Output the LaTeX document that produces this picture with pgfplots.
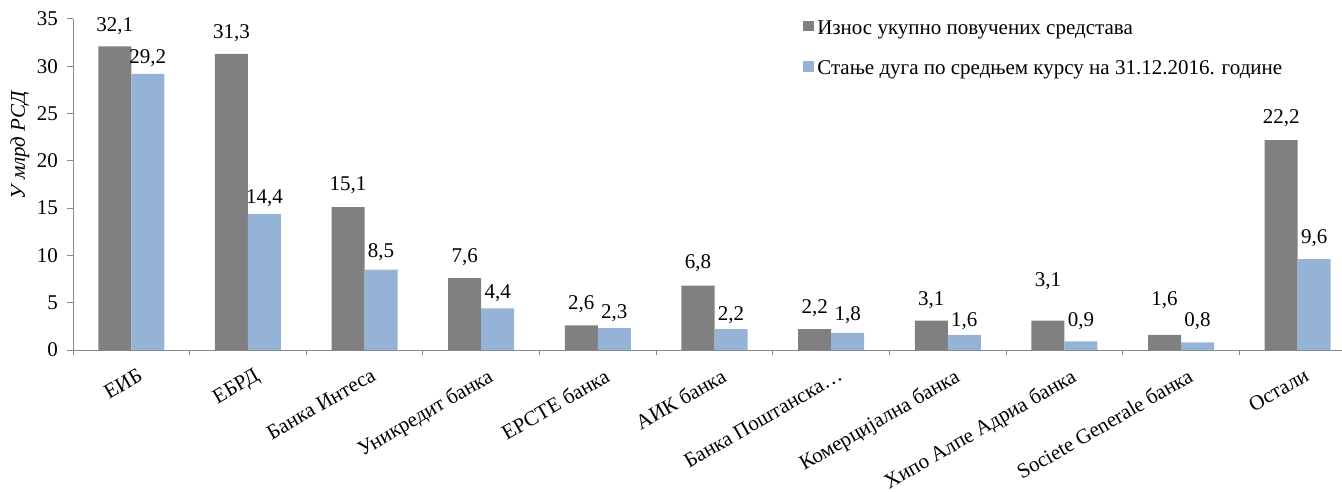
\documentclass[border=0pt]{standalone}
\usepackage{fontspec}
\setmainfont{Liberation Serif}
\usepackage{pgfplots}
\usepackage{pgfplotstable}
\pgfplotsset{compat=1.18}

\definecolor{bargray}{HTML}{808080}
\definecolor{barblue}{HTML}{95B3D7}
\definecolor{axisgray}{HTML}{898989}
\newcommand\ff{\fontsize{21bp}{25bp}\selectfont}

% x = category, y = value, dy = label baseline above bar top (bp)
\pgfplotstableread{
x y dy
0 32.1 15.4
1 31.3 15
2 15.1 16.3
3 7.6 16
4 2.6 16
5 6.8 17
6 2.2 16
7 3.1 15.3
8 3.1 34
9 1.6 29
10 22.2 16.7
}\povuceno

\pgfplotstableread{
x y dy
0 29.2 10
1 14.4 10.3
2 8.5 11.7
3 4.4 9.7
4 2.3 9.4
5 2.2 9
6 1.8 12
7 1.6 8.7
8 0.9 15.3
9 0.8 15.6
10 9.6 16
}\dug

\begin{document}
\begin{tikzpicture}
\useasboundingbox (0,0) rectangle (1342bp,492bp);
\begin{axis}[
  at={(73bp,142bp)}, anchor=south west,
  scale only axis,
  width=1283bp, height=331bp,
  xmin=-0.5, xmax=10.5,
  ymin=0, ymax=35,
  ytick={0,5,...,35},
  xtick={-0.5,0.5,...,10.5},
  x tick label as interval,
  xticklabels={ЕИБ,ЕБРД,Банка Интеса,Уникредит банка,ЕРСТЕ банка,АИК банка,Банка Поштанска…,Комерцијална банка,Хипо Алпе Адриа банка,Societe Generale банка,Остали},
  axis x line*=bottom, axis y line*=left,
  axis line style={draw=axisgray, line width=1bp},
  tick style={draw=axisgray, line width=1bp},
  tick align=outside,
  major tick length=5.5bp,
  /pgf/number format/assume math mode=true,
  tick label style={font=\ff},
  yticklabel style={xshift=-6bp},
  xticklabel style={rotate=30, anchor=north east, inner sep=0pt, yshift=-13bp, xshift=-1bp},
  ylabel={\itshape У млрд РСД},
  ylabel style={font=\ff, at={(axis description cs:-0.0415,0.619)}, anchor=center},
  legend style={font=\ff, draw=none, fill=none, inner sep=0pt,
    at={(axis description cs:0.5692,1.009)}, anchor=north west,
    row sep=15bp,
    nodes={inner sep=3bp, text height=15bp, text depth=4.5bp, xshift=3bp}},
  legend cell align=left,
  legend image code/.code={\fill[#1] (0bp,-2.4bp) rectangle (10.8bp,8.4bp);},
  nodes near coords={\pgfmathprintnumber[fixed, fixed zerofill, precision=1, use comma]{\pgfplotspointmeta}},
  visualization depends on={\thisrow{dy} \as \dy},
  clip=false,
]
\addplot[ybar, bar width=0.283, bar shift=-0.1415, fill=bargray, draw=none,
  every node near coord/.append style={font=\ff, anchor=base, inner sep=0pt, yshift=\dy bp, xshift=-16.5bp}]
  table[x=x, y=y] {\povuceno};
\addlegendentry{Износ укупно повучених средстава}
\addplot[ybar, bar width=0.283, bar shift=0.1415, fill=barblue, draw=none,
  every node near coord/.append style={font=\ff, anchor=base, inner sep=0pt, yshift=\dy bp, xshift=16.5bp}]
  table[x=x, y=y] {\dug};
\addlegendentry{Стање дуга по средњем курсу на 31.12.2016. године}
\end{axis}
\end{tikzpicture}
\end{document}
